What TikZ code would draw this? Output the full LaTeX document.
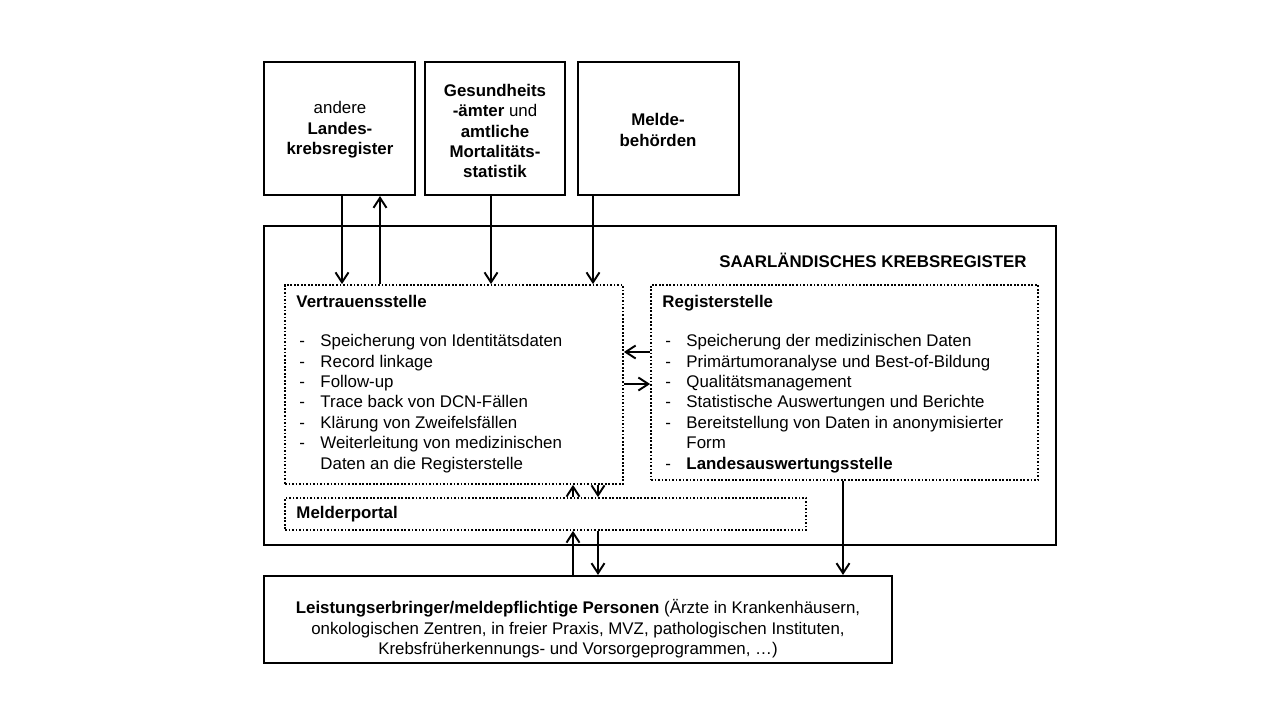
\documentclass[tikz,border=0pt]{standalone}
\usepackage{fontspec}
\setmainfont{Liberation Sans}
\usetikzlibrary{arrows.meta,fit,positioning}
\newcommand\boxfont{\fontsize{9.6}{11.6}\selectfont}
\newcommand\listbox[2]{\begin{tabular}{@{}@{\hspace{0.06cm}}p{0.42cm}@{}l@{}}
  \multicolumn{2}{@{}l}{\textbf{#1}}\\[10.6pt]
  #2
\end{tabular}}
\tikzset{outer/.style={draw, line width=1.2pt, inner sep=0pt},
    unit/.style={draw, densely dotted, line width=1pt, inner sep=0pt},
    arr/.style={line width=1.1pt, -{Straight Barb[length=2mm,width=2.6mm]}},
    boxtext/.style={align=center, inner sep=0pt}}

\begin{document}
\begin{tikzpicture}[x=0.02cm, y=-0.02cm, font=\boxfont]
    \useasboundingbox (0,0) rectangle (1280,720);
    % externe Stellen oben
    \node[outer, fit={(264,62) (415,195)}] (lkr) {};
    \node[outer, fit={(425,62) (565,195)}] (ga) {};
    \node[outer, fit={(578,62) (739,195)}] (mb) {};
    \node[boxtext] (lkrtext) at (340,130)
        {andere\\\textbf{Landes-}\\\textbf{krebsregister}};
    \node[boxtext] (gatext) at (495,131)
        {\textbf{Gesundheits}\\\textbf{-ämter} und\\\textbf{amtliche}\\\textbf{Mortalitäts-}\\\textbf{statistik}};
    \node[boxtext] (mbtext) at (658,130)
        {\textbf{Melde-}\\\textbf{behörden}};
    % Krebsregister
    \node[outer, fit={(264,226) (1056,545)}] (skr) {};
    \node[anchor=base east, inner sep=0pt] (titel) at (1027,267)
        {\textbf{SAARLÄNDISCHES KREBSREGISTER}};
    \node[unit, fit={(285,285) (623,484)}] (vs) {};
    \node[unit, fit={(651,285) (1038,480)}] (rs) {};
    \node[unit, fit={(285,498) (806,530)}] (mp) {};
    \node[inner sep=0pt, anchor=north west, below right=0.18cm and 0.24cm of vs.north west] (vstext)
        {\listbox{Vertrauensstelle}{
        -& Speicherung von Identitätsdaten\\
        -& Record linkage\\
        -& Follow-up\\
        -& Trace back von DCN-Fällen\\
        -& Klärung von Zweifelsfällen\\
        -& Weiterleitung von medizinischen\\
         & Daten an die Registerstelle\\}};
    \node[inner sep=0pt, anchor=north west, below right=0.18cm and 0.24cm of rs.north west] (rstext)
        {\listbox{Registerstelle}{
        -& Speicherung der medizinischen Daten\\
        -& Primärtumoranalyse und Best-of-Bildung\\
        -& Qualitätsmanagement\\
        -& Statistische Auswertungen und Berichte\\
        -& Bereitstellung von Daten in anonymisierter\\
         & Form\\
        -& \textbf{Landesauswertungsstelle}\\}};
    \node[inner sep=0pt, right=0.24cm of mp.west] (mptext) {\textbf{Melderportal}};
    % Melder unten
    \node[outer, fit={(264,576) (892,663)}] (lep) {};
    \node[boxtext] (leptext) at (578,629)
        {\textbf{Leistungserbringer/meldepflichtige Personen} (Ärzte in Krankenhäusern,\\
        onkologischen Zentren, in freier Praxis, MVZ, pathologischen Instituten,\\
        Krebsfrüherkennungs- und Vorsorgeprogrammen, …)};
    % Verbindungen
    \coordinate (xa) at (342,0);
    \coordinate (xb) at (380,0);
    \coordinate (xc) at (491,0);
    \coordinate (xd) at (593,0);
    \coordinate (xe) at (573,0);
    \coordinate (xf) at (598,0);
    \coordinate (xg) at (843,0);
    \coordinate (ya) at (0,352);
    \coordinate (yb) at (0,384);
    \draw[arr] (lkr.south -| xa) -- (vs.north -| xa);
    \draw[arr] (vs.north -| xb) -- (lkr.south -| xb);
    \draw[arr] (ga.south -| xc) -- (vs.north -| xc);
    \draw[arr] (mb.south -| xd) -- (vs.north -| xd);
    \draw[arr] (rs.west |- ya) -- (vs.east |- ya);
    \draw[arr] (vs.east |- yb) -- (rs.west |- yb);
    \draw[arr] (mp.north -| xe) -- (vs.south -| xe);
    \draw[arr] (vs.south -| xf) -- (mp.north -| xf);
    \draw[arr] (lep.north -| xe) -- (mp.south -| xe);
    \draw[arr] (mp.south -| xf) -- (lep.north -| xf);
    \draw[arr] (rs.south -| xg) -- (lep.north -| xg);
\end{tikzpicture}
\end{document}
